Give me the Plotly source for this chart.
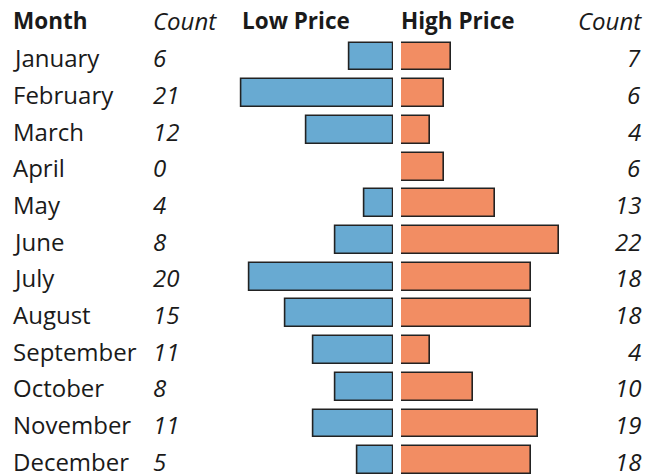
import plotly.graph_objects as go

months = ["January", "February", "March", "April", "May", "June", "July",
          "August", "September", "October", "November", "December"]
low_count = [6, 21, 12, 0, 4, 8, 20, 15, 11, 8, 11, 5]
high_count = [7, 6, 4, 6, 13, 22, 18, 18, 4, 10, 19, 18]
headers = ["Month", "Count", "Low Price", "High Price", "Count"]

W, H = 657, 475
PX_PER_UNIT = 7.2
FONT = "Open Sans"
FS_BOLD = 22.5
FS = 24
TXT = "#1a1a1a"
BLUE = "#68AAD2"
ORANGE = "#F28D63"

rows = list(range(len(months)))

low_dom = [0.2, 393 / W]
high_dom = [401 / W, 0.95]
low_range = [(low_dom[1] - low_dom[0]) * W / PX_PER_UNIT, 0]
high_range = [0, (high_dom[1] - high_dom[0]) * W / PX_PER_UNIT]

y0, dy = 56.5, 36.7
y_range = [(H - y0) / dy, -y0 / dy]

fig = go.Figure()
fig.add_trace(go.Bar(x=[v if v else None for v in low_count], y=rows, orientation="h",
                     xaxis="x", yaxis="y",
                     marker=dict(color=BLUE, line=dict(color="#222222", width=1.6)),
                     width=0.76, hoverinfo="skip"))
fig.add_trace(go.Bar(x=[v if v else None for v in high_count], y=rows, orientation="h",
                     xaxis="x2", yaxis="y",
                     marker=dict(color=ORANGE, line=dict(color="#222222", width=1.6)),
                     width=0.76, hoverinfo="skip"))

ann = []
def a(text, xpx, yv, anchor="left", bold=False, italic=False, size=FS):
    t = text
    if bold:
        t = f"<b>{t}</b>"
    if italic:
        t = f"<i>{t}</i>"
    ann.append(dict(text=t, x=xpx / W, xref="paper", y=yv, yref="y",
                    xanchor=anchor, yanchor="middle", showarrow=False,
                    font=dict(family=FONT, size=size, color=TXT)))

hy = -0.98
a(headers[0], 11, hy, bold=True, size=FS_BOLD)
a(headers[1], 151, hy, italic=True)
a(headers[2], 296, hy, anchor="center", bold=True, size=FS_BOLD)
a(headers[3], 458, hy, anchor="center", bold=True, size=FS_BOLD)
a(headers[4], 644, hy, anchor="right", italic=True)
for i, m in enumerate(months):
    yv = i + 0.03
    a(m, 11, yv)
    a(str(low_count[i]), 151, yv, italic=True)
    a(str(high_count[i]), 643, yv, anchor="right", italic=True)

fig.update_layout(
    width=W, height=H, margin=dict(l=0, r=0, t=0, b=0),
    paper_bgcolor="white", plot_bgcolor="white", showlegend=False,
    bargap=0,
    xaxis=dict(domain=low_dom, range=low_range, visible=False, fixedrange=True),
    xaxis2=dict(domain=high_dom, range=high_range, visible=False, fixedrange=True,
                anchor="y"),
    yaxis=dict(range=y_range, visible=False, fixedrange=True),
    annotations=ann,
)
fig.write_html("out.html", config={"displayModeBar": False},
               post_script="document.body.style.margin='0';document.body.style.overflow='hidden';")
